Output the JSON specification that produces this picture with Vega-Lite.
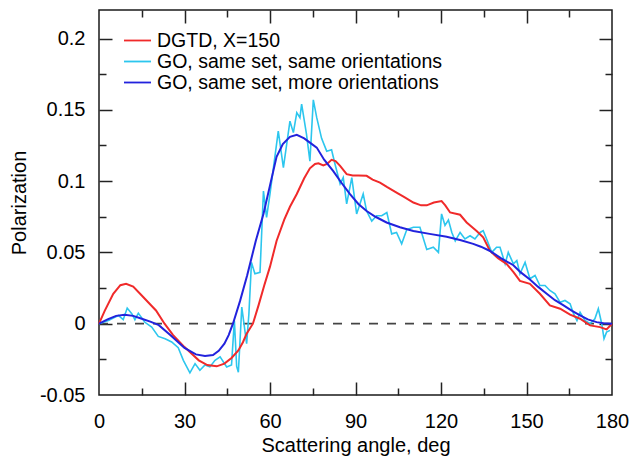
{
  "$schema": "https://vega.github.io/schema/vega-lite/v6.json",
  "width": 513,
  "height": 385,
  "autosize": "none",
  "padding": {"left": 99, "top": 10, "right": 21, "bottom": 65},
  "background": "white",
  "config": {
    "font": "Liberation Sans",
    "view": {"stroke": "#1a1a1a", "strokeWidth": 1.5},
    "axis": {"grid": false, "domain": false, "tickColor": "#222222", "tickWidth": 1.5, "labelColor": "#000000", "titleColor": "#000000", "labelFont": "Liberation Sans", "titleFont": "Liberation Sans", "labelFontSize": 20, "titleFontSize": 20, "titleFontWeight": "normal", "labelFlush": false, "labelOverlap": false}
  },
  "datasets": {
    "curves": [
      {"s": "GOs", "a": 0, "p": 0}, {"s": "GOs", "a": 1.5, "p": 0.001}, {"s": "GOs", "a": 3.3, "p": 0.0023}, {"s": "GOs", "a": 5, "p": 0.004}, {"s": "GOs", "a": 6.8, "p": 0.0058}, {"s": "GOs", "a": 8.5, "p": 0.0028}, {"s": "GOs", "a": 9.9, "p": 0.011}, {"s": "GOs", "a": 11.5, "p": 0.007}, {"s": "GOs", "a": 12.6, "p": 0.0028}, {"s": "GOs", "a": 13.8, "p": 0.0074}, {"s": "GOs", "a": 16.1, "p": 0.001}, {"s": "GOs", "a": 18.5, "p": -0.0024}, {"s": "GOs", "a": 20.8, "p": -0.0089}, {"s": "GOs", "a": 23.2, "p": -0.0105}, {"s": "GOs", "a": 25.5, "p": -0.0128}, {"s": "GOs", "a": 27.8, "p": -0.0168}, {"s": "GOs", "a": 29.6, "p": -0.0257}, {"s": "GOs", "a": 31.9, "p": -0.0345}, {"s": "GOs", "a": 33.7, "p": -0.028}, {"s": "GOs", "a": 35.4, "p": -0.0327}, {"s": "GOs", "a": 37.2, "p": -0.029}, {"s": "GOs", "a": 38.9, "p": -0.0303}, {"s": "GOs", "a": 40.7, "p": -0.0257}, {"s": "GOs", "a": 42.5, "p": -0.0233}, {"s": "GOs", "a": 44.8, "p": -0.0303}, {"s": "GOs", "a": 46.5, "p": -0.029}, {"s": "GOs", "a": 47.5, "p": 0.0023}, {"s": "GOs", "a": 48.3, "p": -0.03}, {"s": "GOs", "a": 48.9, "p": -0.034}, {"s": "GOs", "a": 50.1, "p": 0.0116}, {"s": "GOs", "a": 51.8, "p": -0.014}, {"s": "GOs", "a": 52.6, "p": 0.007}, {"s": "GOs", "a": 53.5, "p": 0.043}, {"s": "GOs", "a": 54.7, "p": 0.035}, {"s": "GOs", "a": 56.5, "p": 0.036}, {"s": "GOs", "a": 57.7, "p": 0.093}, {"s": "GOs", "a": 58.8, "p": 0.0746}, {"s": "GOs", "a": 60, "p": 0.091}, {"s": "GOs", "a": 62.9, "p": 0.135}, {"s": "GOs", "a": 64.7, "p": 0.1095}, {"s": "GOs", "a": 67, "p": 0.142}, {"s": "GOs", "a": 68.2, "p": 0.134}, {"s": "GOs", "a": 69.4, "p": 0.148}, {"s": "GOs", "a": 70.5, "p": 0.1445}, {"s": "GOs", "a": 71.1, "p": 0.154}, {"s": "GOs", "a": 72.8, "p": 0.133}, {"s": "GOs", "a": 74, "p": 0.114}, {"s": "GOs", "a": 75.2, "p": 0.157}, {"s": "GOs", "a": 76.4, "p": 0.1445}, {"s": "GOs", "a": 78.1, "p": 0.13}, {"s": "GOs", "a": 79.9, "p": 0.121}, {"s": "GOs", "a": 81.6, "p": 0.122}, {"s": "GOs", "a": 82.8, "p": 0.112}, {"s": "GOs", "a": 84.6, "p": 0.098}, {"s": "GOs", "a": 85.7, "p": 0.1025}, {"s": "GOs", "a": 86.9, "p": 0.084}, {"s": "GOs", "a": 88.7, "p": 0.1025}, {"s": "GOs", "a": 90.4, "p": 0.077}, {"s": "GOs", "a": 92.7, "p": 0.091}, {"s": "GOs", "a": 93.9, "p": 0.079}, {"s": "GOs", "a": 95.7, "p": 0.072}, {"s": "GOs", "a": 97.4, "p": 0.0757}, {"s": "GOs", "a": 99.2, "p": 0.0757}, {"s": "GOs", "a": 101, "p": 0.078}, {"s": "GOs", "a": 102.7, "p": 0.063}, {"s": "GOs", "a": 104.4, "p": 0.064}, {"s": "GOs", "a": 106.2, "p": 0.056}, {"s": "GOs", "a": 108, "p": 0.066}, {"s": "GOs", "a": 110.3, "p": 0.0676}, {"s": "GOs", "a": 112.6, "p": 0.0676}, {"s": "GOs", "a": 115, "p": 0.052}, {"s": "GOs", "a": 117.3, "p": 0.0536}, {"s": "GOs", "a": 119.1, "p": 0.05}, {"s": "GOs", "a": 120.2, "p": 0.077}, {"s": "GOs", "a": 121.4, "p": 0.069}, {"s": "GOs", "a": 122.6, "p": 0.0727}, {"s": "GOs", "a": 123.8, "p": 0.064}, {"s": "GOs", "a": 125, "p": 0.058}, {"s": "GOs", "a": 126.7, "p": 0.064}, {"s": "GOs", "a": 128.4, "p": 0.0594}, {"s": "GOs", "a": 130.2, "p": 0.0617}, {"s": "GOs", "a": 131.9, "p": 0.0594}, {"s": "GOs", "a": 133.7, "p": 0.064}, {"s": "GOs", "a": 134.8, "p": 0.0652}, {"s": "GOs", "a": 136, "p": 0.0594}, {"s": "GOs", "a": 137.8, "p": 0.05}, {"s": "GOs", "a": 139.5, "p": 0.0536}, {"s": "GOs", "a": 140.7, "p": 0.0536}, {"s": "GOs", "a": 142.5, "p": 0.042}, {"s": "GOs", "a": 143.6, "p": 0.05}, {"s": "GOs", "a": 145.4, "p": 0.042}, {"s": "GOs", "a": 146.6, "p": 0.0443}, {"s": "GOs", "a": 147.7, "p": 0.035}, {"s": "GOs", "a": 149.5, "p": 0.043}, {"s": "GOs", "a": 151.2, "p": 0.0315}, {"s": "GOs", "a": 153, "p": 0.0338}, {"s": "GOs", "a": 154.7, "p": 0.0268}, {"s": "GOs", "a": 156.5, "p": 0.0268}, {"s": "GOs", "a": 158.2, "p": 0.0233}, {"s": "GOs", "a": 160, "p": 0.021}, {"s": "GOs", "a": 161.8, "p": 0.015}, {"s": "GOs", "a": 163.5, "p": 0.0163}, {"s": "GOs", "a": 165.3, "p": 0.014}, {"s": "GOs", "a": 166.5, "p": 0.007}, {"s": "GOs", "a": 167.7, "p": 0.0023}, {"s": "GOs", "a": 168.8, "p": 0.008}, {"s": "GOs", "a": 170.5, "p": 0.0023}, {"s": "GOs", "a": 172.3, "p": 0}, {"s": "GOs", "a": 174, "p": 0.0035}, {"s": "GOs", "a": 175.2, "p": 0.0105}, {"s": "GOs", "a": 176.4, "p": 0}, {"s": "GOs", "a": 177.2, "p": -0.0105}, {"s": "GOs", "a": 178.1, "p": -0.0059}, {"s": "GOs", "a": 179.3, "p": -0.0047},
      {"s": "DGTD", "a": 0, "p": 0}, {"s": "DGTD", "a": 2, "p": 0.009}, {"s": "DGTD", "a": 5, "p": 0.021}, {"s": "DGTD", "a": 7.5, "p": 0.027}, {"s": "DGTD", "a": 9.5, "p": 0.028}, {"s": "DGTD", "a": 12, "p": 0.026}, {"s": "DGTD", "a": 15, "p": 0.0198}, {"s": "DGTD", "a": 18, "p": 0.0135}, {"s": "DGTD", "a": 20, "p": 0.0093}, {"s": "DGTD", "a": 23, "p": 0}, {"s": "DGTD", "a": 26, "p": -0.008}, {"s": "DGTD", "a": 30, "p": -0.0164}, {"s": "DGTD", "a": 33, "p": -0.022}, {"s": "DGTD", "a": 35, "p": -0.0257}, {"s": "DGTD", "a": 38, "p": -0.029}, {"s": "DGTD", "a": 41.3, "p": -0.0299}, {"s": "DGTD", "a": 44, "p": -0.028}, {"s": "DGTD", "a": 46.5, "p": -0.024}, {"s": "DGTD", "a": 48.9, "p": -0.0187}, {"s": "DGTD", "a": 50.5, "p": -0.013}, {"s": "DGTD", "a": 51.8, "p": -0.007}, {"s": "DGTD", "a": 54, "p": 0}, {"s": "DGTD", "a": 56, "p": 0.013}, {"s": "DGTD", "a": 58, "p": 0.027}, {"s": "DGTD", "a": 60, "p": 0.04}, {"s": "DGTD", "a": 62.3, "p": 0.058}, {"s": "DGTD", "a": 65, "p": 0.073}, {"s": "DGTD", "a": 67, "p": 0.082}, {"s": "DGTD", "a": 69.4, "p": 0.091}, {"s": "DGTD", "a": 72, "p": 0.102}, {"s": "DGTD", "a": 74, "p": 0.109}, {"s": "DGTD", "a": 75.8, "p": 0.112}, {"s": "DGTD", "a": 77, "p": 0.1125}, {"s": "DGTD", "a": 78.7, "p": 0.111}, {"s": "DGTD", "a": 80, "p": 0.112}, {"s": "DGTD", "a": 81.6, "p": 0.1149}, {"s": "DGTD", "a": 83, "p": 0.114}, {"s": "DGTD", "a": 84.6, "p": 0.1107}, {"s": "DGTD", "a": 86.9, "p": 0.1049}, {"s": "DGTD", "a": 89, "p": 0.104}, {"s": "DGTD", "a": 91, "p": 0.104}, {"s": "DGTD", "a": 93.9, "p": 0.1037}, {"s": "DGTD", "a": 96, "p": 0.101}, {"s": "DGTD", "a": 98.6, "p": 0.099}, {"s": "DGTD", "a": 101, "p": 0.096}, {"s": "DGTD", "a": 104.4, "p": 0.092}, {"s": "DGTD", "a": 107, "p": 0.089}, {"s": "DGTD", "a": 110.3, "p": 0.085}, {"s": "DGTD", "a": 113, "p": 0.083}, {"s": "DGTD", "a": 115, "p": 0.083}, {"s": "DGTD", "a": 117.5, "p": 0.085}, {"s": "DGTD", "a": 120.2, "p": 0.086}, {"s": "DGTD", "a": 121.5, "p": 0.083}, {"s": "DGTD", "a": 123.2, "p": 0.078}, {"s": "DGTD", "a": 126.7, "p": 0.0764}, {"s": "DGTD", "a": 129, "p": 0.071}, {"s": "DGTD", "a": 132.5, "p": 0.065}, {"s": "DGTD", "a": 134.8, "p": 0.0606}, {"s": "DGTD", "a": 137.2, "p": 0.051}, {"s": "DGTD", "a": 140, "p": 0.046}, {"s": "DGTD", "a": 143, "p": 0.042}, {"s": "DGTD", "a": 145.5, "p": 0.036}, {"s": "DGTD", "a": 147.7, "p": 0.03}, {"s": "DGTD", "a": 151.2, "p": 0.028}, {"s": "DGTD", "a": 154.7, "p": 0.021}, {"s": "DGTD", "a": 158.2, "p": 0.0128}, {"s": "DGTD", "a": 161.8, "p": 0.0105}, {"s": "DGTD", "a": 165.3, "p": 0.0063}, {"s": "DGTD", "a": 168.8, "p": 0.0035}, {"s": "DGTD", "a": 172.3, "p": -0.0012}, {"s": "DGTD", "a": 175.8, "p": -0.0024}, {"s": "DGTD", "a": 178.1, "p": -0.004}, {"s": "DGTD", "a": 180, "p": 0},
      {"s": "GOm", "a": 0, "p": 0}, {"s": "GOm", "a": 3, "p": 0.003}, {"s": "GOm", "a": 6, "p": 0.0055}, {"s": "GOm", "a": 9, "p": 0.0063}, {"s": "GOm", "a": 12, "p": 0.0055}, {"s": "GOm", "a": 15, "p": 0.0035}, {"s": "GOm", "a": 18, "p": 0.0015}, {"s": "GOm", "a": 21, "p": -0.001}, {"s": "GOm", "a": 25, "p": -0.008}, {"s": "GOm", "a": 30, "p": -0.017}, {"s": "GOm", "a": 34, "p": -0.0215}, {"s": "GOm", "a": 37.2, "p": -0.0227}, {"s": "GOm", "a": 40, "p": -0.022}, {"s": "GOm", "a": 42, "p": -0.019}, {"s": "GOm", "a": 44, "p": -0.014}, {"s": "GOm", "a": 45.5, "p": -0.008}, {"s": "GOm", "a": 47, "p": 0}, {"s": "GOm", "a": 49.5, "p": 0.016}, {"s": "GOm", "a": 52, "p": 0.034}, {"s": "GOm", "a": 55, "p": 0.058}, {"s": "GOm", "a": 57.7, "p": 0.077}, {"s": "GOm", "a": 60, "p": 0.097}, {"s": "GOm", "a": 62.3, "p": 0.117}, {"s": "GOm", "a": 64.5, "p": 0.126}, {"s": "GOm", "a": 67, "p": 0.131}, {"s": "GOm", "a": 69.4, "p": 0.1324}, {"s": "GOm", "a": 72, "p": 0.13}, {"s": "GOm", "a": 74, "p": 0.127}, {"s": "GOm", "a": 76.4, "p": 0.1235}, {"s": "GOm", "a": 79, "p": 0.115}, {"s": "GOm", "a": 82.2, "p": 0.107}, {"s": "GOm", "a": 85, "p": 0.099}, {"s": "GOm", "a": 88, "p": 0.091}, {"s": "GOm", "a": 91, "p": 0.084}, {"s": "GOm", "a": 93.9, "p": 0.079}, {"s": "GOm", "a": 97, "p": 0.075}, {"s": "GOm", "a": 100.9, "p": 0.071}, {"s": "GOm", "a": 105.6, "p": 0.0676}, {"s": "GOm", "a": 110.3, "p": 0.065}, {"s": "GOm", "a": 116, "p": 0.063}, {"s": "GOm", "a": 122, "p": 0.061}, {"s": "GOm", "a": 127, "p": 0.0585}, {"s": "GOm", "a": 131.3, "p": 0.056}, {"s": "GOm", "a": 134, "p": 0.054}, {"s": "GOm", "a": 137.2, "p": 0.051}, {"s": "GOm", "a": 141, "p": 0.046}, {"s": "GOm", "a": 145.4, "p": 0.041}, {"s": "GOm", "a": 148, "p": 0.036}, {"s": "GOm", "a": 151.2, "p": 0.031}, {"s": "GOm", "a": 154, "p": 0.026}, {"s": "GOm", "a": 157.1, "p": 0.021}, {"s": "GOm", "a": 160, "p": 0.0165}, {"s": "GOm", "a": 163, "p": 0.0128}, {"s": "GOm", "a": 166, "p": 0.009}, {"s": "GOm", "a": 168.8, "p": 0.0058}, {"s": "GOm", "a": 171.5, "p": 0.003}, {"s": "GOm", "a": 174.6, "p": 0.0011}, {"s": "GOm", "a": 177, "p": 0.0003}, {"s": "GOm", "a": 180, "p": 0}
    ],
    "zero": [{"p": 0}]
  },
  "layer": [
    {
      "data": {"name": "zero"},
      "mark": {"type": "rule", "color": "#444444", "strokeWidth": 1.8, "strokeDash": [9, 9]},
      "encoding": {
        "y": {"field": "p", "type": "quantitative", "scale": {"domain": [-0.05, 0.22], "nice": false, "zero": false}, "axis": null}
      }
    },
    {
      "data": {"name": "curves"},
      "transform": [{"filter": "datum.s === 'GOs'"}],
      "mark": {"type": "line", "strokeWidth": 1.6},
      "encoding": {
        "x": {"field": "a", "type": "quantitative", "scale": {"domain": [0, 180], "nice": false, "zero": false},
          "axis": {"orient": "bottom", "values": [0, 30, 60, 90, 120, 150, 180], "ticks": false, "labelPadding": 16, "title": "Scattering angle, deg", "titlePadding": 4}},
        "y": {"field": "p", "type": "quantitative", "scale": {"domain": [-0.05, 0.22], "nice": false, "zero": false},
          "axis": {"orient": "left", "values": [-0.05, 0, 0.05, 0.1, 0.15, 0.2], "ticks": false, "labelPadding": 14, "labelExpr": "'' + datum.value", "title": "Polarization", "titlePadding": 10}},
        "color": {"field": "s", "type": "nominal",
          "scale": {"domain": ["DGTD", "GOs", "GOm"], "range": ["#f02a2a", "#2cc6ee", "#2222dd"]},
          "legend": {"orient": "none", "legendX": 27.5, "legendY": 19.5, "title": null, "symbolType": "M-1.35,0L1.35,0", "symbolSize": 400, "symbolStrokeWidth": 1.8, "symbolFillColor": "transparent", "labelFontSize": 19.5, "labelFont": "Liberation Sans", "labelColor": "#000000", "labelOffset": 8.5, "rowPadding": -6, "labelLimit": 400,
            "labelExpr": "datum.value === 'DGTD' ? 'DGTD, X=150' : datum.value === 'GOs' ? 'GO, same set, same orientations' : 'GO, same set, more orientations'"}}
      }
    },
    {
      "data": {"name": "curves"},
      "transform": [{"filter": "datum.s === 'DGTD'"}],
      "mark": {"type": "line", "strokeWidth": 2},
      "encoding": {
        "x": {"field": "a", "type": "quantitative", "scale": {"domain": [0, 180], "nice": false, "zero": false}, "axis": null},
        "y": {"field": "p", "type": "quantitative", "scale": {"domain": [-0.05, 0.22], "nice": false, "zero": false}, "axis": null},
        "color": {"field": "s", "type": "nominal"}
      }
    },
    {
      "data": {"name": "curves"},
      "transform": [{"filter": "datum.s === 'GOm'"}],
      "mark": {"type": "line", "strokeWidth": 2},
      "encoding": {
        "x": {"field": "a", "type": "quantitative", "scale": {"domain": [0, 180], "nice": false, "zero": false}, "axis": null},
        "y": {"field": "p", "type": "quantitative", "scale": {"domain": [-0.05, 0.22], "nice": false, "zero": false}, "axis": null},
        "color": {"field": "s", "type": "nominal"}
      }
    },
    {
      "data": {"name": "zero"},
      "mark": {"type": "point", "opacity": 0},
      "encoding": {
        "x": {"datum": 0, "type": "quantitative", "scale": {"domain": [0, 180], "nice": false, "zero": false},
          "axis": {"orient": "bottom", "values": [30, 60, 90, 120, 150], "labels": false, "title": null, "tickSize": -13}},
        "y": {"field": "p", "type": "quantitative", "scale": {"domain": [-0.05, 0.22], "nice": false, "zero": false},
          "axis": {"orient": "left", "values": [0, 0.05, 0.1, 0.15, 0.2], "labels": false, "title": null, "tickSize": -13}}
      }
    },
    {
      "data": {"name": "zero"},
      "mark": {"type": "point", "opacity": 0},
      "encoding": {
        "x": {"datum": 0, "type": "quantitative", "scale": {"domain": [0, 180], "nice": false, "zero": false},
          "axis": {"orient": "bottom", "values": [15, 45, 75, 105, 135, 165], "labels": false, "title": null, "tickSize": -7}},
        "y": {"field": "p", "type": "quantitative", "scale": {"domain": [-0.05, 0.22], "nice": false, "zero": false},
          "axis": {"orient": "left", "values": [-0.025, 0.025, 0.075, 0.125, 0.175], "labels": false, "title": null, "tickSize": -7}}
      }
    },
    {
      "data": {"name": "zero"},
      "mark": {"type": "point", "opacity": 0},
      "encoding": {
        "x": {"datum": 0, "type": "quantitative", "scale": {"domain": [0, 180], "nice": false, "zero": false},
          "axis": {"orient": "top", "values": [30, 60, 90, 120, 150], "labels": false, "title": null, "tickSize": -13}},
        "y": {"field": "p", "type": "quantitative", "scale": {"domain": [-0.05, 0.22], "nice": false, "zero": false},
          "axis": {"orient": "right", "values": [0, 0.05, 0.1, 0.15, 0.2], "labels": false, "title": null, "tickSize": -13}}
      }
    },
    {
      "data": {"name": "zero"},
      "mark": {"type": "point", "opacity": 0},
      "encoding": {
        "x": {"datum": 0, "type": "quantitative", "scale": {"domain": [0, 180], "nice": false, "zero": false},
          "axis": {"orient": "top", "values": [15, 45, 75, 105, 135, 165], "labels": false, "title": null, "tickSize": -7}},
        "y": {"field": "p", "type": "quantitative", "scale": {"domain": [-0.05, 0.22], "nice": false, "zero": false},
          "axis": {"orient": "right", "values": [-0.025, 0.025, 0.075, 0.125, 0.175], "labels": false, "title": null, "tickSize": -7}}
      }
    }
  ],
  "resolve": {"axis": {"x": "independent", "y": "independent"}}
}
